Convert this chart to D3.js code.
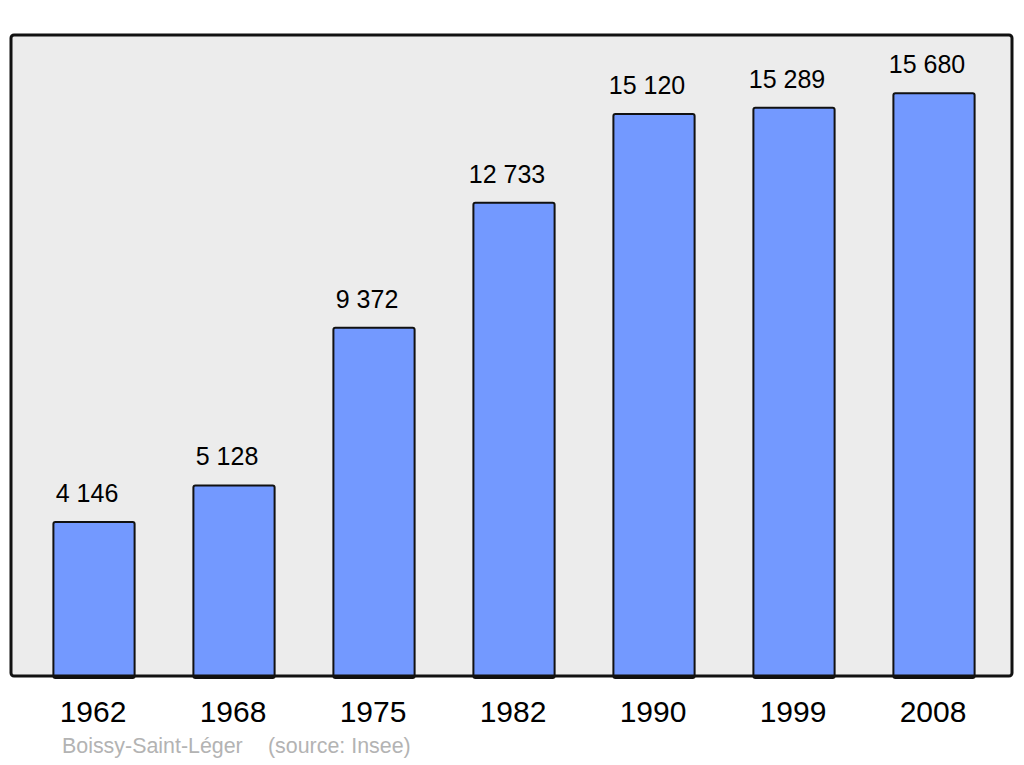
<!DOCTYPE html>
<html>
<head>
<meta charset="utf-8">
<script src="https://cdn.jsdelivr.net/npm/d3@7"></script>
<style>
  html, body { margin: 0; padding: 0; background: #fff; }
  svg { display: block; }
</style>
</head>
<body>
<script>
const years = ["1962", "1968", "1975", "1982", "1990", "1999", "2008"];
const population = [4146, 5128, 9372, 12733, 15120, 15289, 15680];
const valueLabels = ["4 146", "5 128", "9 372", "12 733", "15 120", "15 289", "15 680"];
const placeName = "Boissy-Saint-Léger";
const sourceText = "(source: Insee)";

const W = 1024, H = 765;
const svg = d3.select("body").append("svg").attr("width", W).attr("height", H);

const font = "Liberation Sans, Arial, sans-serif";

// panel background
svg.append("rect")
  .attr("x", 11).attr("y", 35).attr("width", 1001).attr("height", 641)
  .attr("rx", 3).attr("ry", 3)
  .attr("fill", "#ececec");

const x = d3.scaleBand().domain(years).range([24, 1004]).paddingInner(0.42).paddingOuter(0.21);
const y = d3.scaleLinear().domain([0, d3.max(population) * 1.1]).range([676, 35]);

const data = years.map((yr, i) => ({ yr, v: population[i], lab: valueLabels[i] }));

svg.append("g").selectAll("rect").data(data).join("rect")
  .attr("x", d => x(d.yr))
  .attr("y", d => y(d.v))
  .attr("width", x.bandwidth())
  .attr("height", d => y(0) - y(d.v) + 2)
  .attr("rx", 2).attr("ry", 2)
  .attr("fill", "#7399ff").attr("stroke", "#111").attr("stroke-width", 2);

// panel outline on top
svg.append("rect")
  .attr("x", 11).attr("y", 35).attr("width", 1001).attr("height", 641)
  .attr("rx", 3).attr("ry", 3)
  .attr("fill", "none").attr("stroke", "#111").attr("stroke-width", 3);

svg.append("g").selectAll("text").data(data).join("text")
  .attr("x", d => x(d.yr) + x.bandwidth() / 2 - 7)
  .attr("y", d => y(d.v) - 20)
  .attr("text-anchor", "middle")
  .attr("font-family", font).attr("font-size", 25)
  .attr("fill", "#000")
  .text(d => d.lab);

// x axis labels
const xAxis = d3.axisBottom(x).tickSize(0).tickPadding(0);
const gx = svg.append("g").attr("transform", "translate(-1,722)").call(xAxis);
gx.select(".domain").remove();
gx.selectAll("text")
  .attr("dy", 0).attr("y", 0)
  .attr("font-family", font).attr("font-size", 30).attr("fill", "#000");

// footer
svg.append("text").attr("x", 62).attr("y", 753)
  .attr("font-family", font).attr("font-size", 21.4).attr("fill", "#b3b3b3")
  .text(placeName);
svg.append("text").attr("x", 268).attr("y", 753)
  .attr("font-family", font).attr("font-size", 21.4).attr("fill", "#b3b3b3")
  .text(sourceText);
</script>
</body>
</html>
